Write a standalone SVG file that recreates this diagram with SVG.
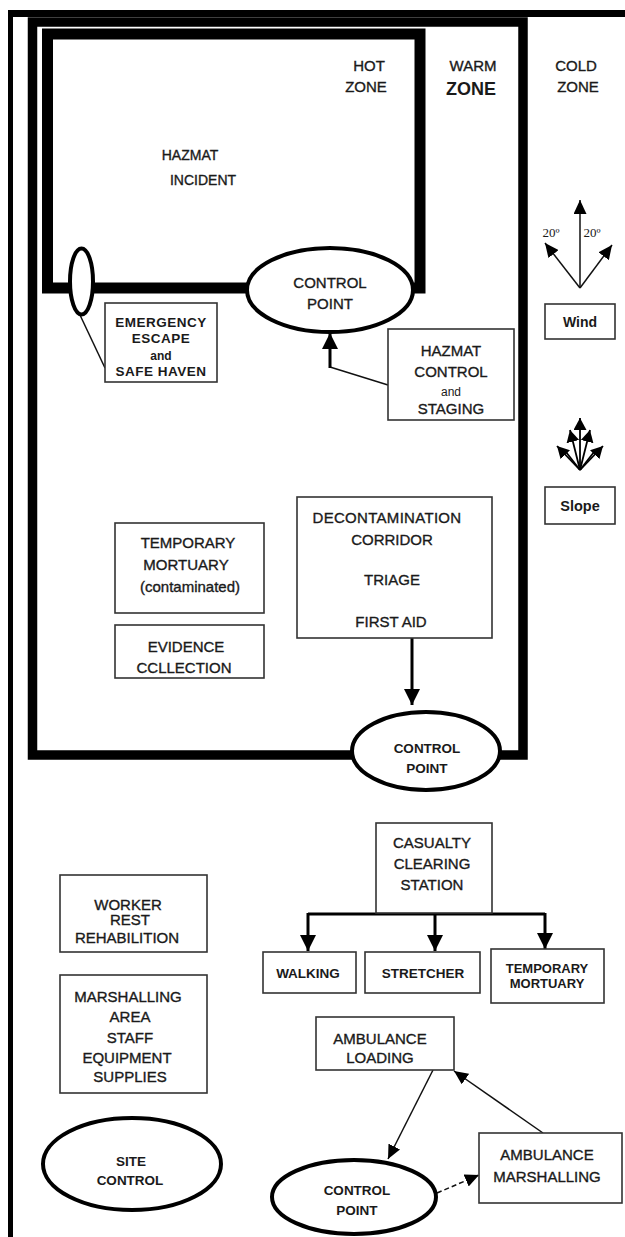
<svg xmlns="http://www.w3.org/2000/svg" width="625" height="1237" viewBox="0 0 625 1237">
<defs>
<style>
text{font-family:"Liberation Sans",Arial,sans-serif;fill:#1a1a1a;text-anchor:middle}
.t{font-size:15px;stroke:#1a1a1a;stroke-width:0.35px}
.b{font-size:13.5px;font-weight:bold}
.box{fill:#fff;stroke:#333;stroke-width:1.6}
.ell{fill:#fff;stroke:#000;stroke-width:4}
.ln{fill:none;stroke:#111;stroke-width:1.5}
.thick{fill:none;stroke:#000;stroke-width:3}
.serif{font-family:"Liberation Serif","Times New Roman",serif;font-size:13px}
</style>
<marker id="big" markerUnits="userSpaceOnUse" markerWidth="16" markerHeight="16" refX="16" refY="8" orient="auto"><path d="M0,0 L16,8 L0,16 z" fill="#000"/></marker>
<marker id="sm" markerUnits="userSpaceOnUse" markerWidth="14" markerHeight="13" refX="14" refY="6.5" orient="auto"><path d="M0,0 L14,6.5 L0,13 z" fill="#000"/></marker>
<marker id="tiny" markerUnits="userSpaceOnUse" markerWidth="13" markerHeight="13" refX="12" refY="6.5" orient="auto"><path d="M0,0 L12,6.5 L0,13 z" fill="#000"/></marker>
</defs>
<rect width="625" height="1237" fill="#fff"/>

<g id="frames">
<rect x="8" y="10" width="617" height="7" fill="#000"/>
<rect x="8" y="10" width="5" height="1227" fill="#000"/>
<rect x="32.5" y="22" width="490.5" height="733" fill="none" stroke="#000" stroke-width="9.5"/>
<rect x="47.5" y="34" width="372.5" height="254" fill="none" stroke="#000" stroke-width="11"/>
</g>

<g id="zone-labels">
<text class="t" x="369" y="71">HOT</text>
<text class="t" x="366" y="92">ZONE</text>
<text class="t" x="473" y="71">WARM</text>
<text x="471" y="95" style="font-size:18px;font-weight:bold">ZONE</text>
<text class="t" x="576" y="71">COLD</text>
<text class="t" x="578" y="92">ZONE</text>
</g>

<g id="hazmat-incident">
<text class="t" x="190" y="160" style="font-size:14px">HAZMAT</text>
<text class="t" x="203" y="185" style="font-size:14px">INCIDENT</text>
</g>

<g id="connectors">
<line class="ln" x1="80" y1="315" x2="105" y2="368" stroke-width="1.2"/>
<polyline class="ln" points="388,385 330,367" stroke-width="2"/>
<line class="thick" x1="330" y1="368" x2="330" y2="333" marker-end="url(#big)"/>
<line class="thick" x1="412" y1="638" x2="412" y2="705" marker-end="url(#big)"/>
<path class="thick" d="M308,914 H545"/>
<line class="thick" x1="308" y1="913" x2="308" y2="951" marker-end="url(#big)"/>
<line class="thick" x1="435" y1="913" x2="435" y2="951" marker-end="url(#big)"/>
<line class="thick" x1="545" y1="913" x2="545" y2="949" marker-end="url(#big)"/>
<line class="ln" x1="433" y1="1070" x2="388" y2="1159" marker-end="url(#sm)"/>
<line class="ln" x1="543" y1="1133" x2="454" y2="1071" marker-end="url(#sm)"/>
<line class="ln" x1="437" y1="1193" x2="479" y2="1175" stroke-dasharray="5,3" marker-end="url(#sm)"/>
</g>

<g id="emergency-escape-ellipse">
<ellipse cx="81.5" cy="281.5" rx="11.5" ry="33" fill="#fff" stroke="#000" stroke-width="4"/>
</g>

<g id="control-point-1">
<ellipse class="ell" cx="330" cy="290" rx="83" ry="42"/>
<text class="t" x="330" y="288">CONTROL</text>
<text class="t" x="330" y="309">POINT</text>
</g>

<g id="emergency-escape">
<rect class="box" x="105" y="303" width="112" height="79"/>
<text class="b" x="161" y="327" style="letter-spacing:0.5px">EMERGENCY</text>
<text class="b" x="161" y="343" style="letter-spacing:0.5px">ESCAPE</text>
<text x="161" y="360" style="font-size:12px;font-weight:bold">and</text>
<text class="b" x="161" y="376" style="letter-spacing:0.5px">SAFE HAVEN</text>
</g>

<g id="hazmat-control">
<rect class="box" x="388" y="329" width="126" height="91"/>
<text class="t" x="451" y="356">HAZMAT</text>
<text class="t" x="451" y="377">CONTROL</text>
<text x="451" y="396" style="font-size:12px">and</text>
<text class="t" x="451" y="414">STAGING</text>
</g>

<g id="wind">
<line class="ln" x1="580" y1="288" x2="580" y2="200" marker-end="url(#sm)"/>
<line class="ln" x1="580" y1="288" x2="545" y2="243" marker-end="url(#sm)"/>
<line class="ln" x1="580" y1="288" x2="612" y2="245" marker-end="url(#sm)"/>
<text class="serif" x="551" y="237">20º</text>
<text class="serif" x="592" y="237">20º</text>
<rect class="box" x="545" y="304" width="70" height="35"/>
<text x="580" y="327" style="font-size:14px;font-weight:bold">Wind</text>
</g>

<g id="slope">
<g fill="none" stroke="#000" stroke-width="1.8">
<line x1="580" y1="470" x2="580" y2="418" marker-end="url(#tiny)"/>
<line x1="580" y1="470" x2="570" y2="430" marker-end="url(#tiny)"/>
<line x1="580" y1="470" x2="590" y2="430" marker-end="url(#tiny)"/>
<line x1="580" y1="470" x2="557" y2="446" marker-end="url(#tiny)"/>
<line x1="580" y1="470" x2="603" y2="446" marker-end="url(#tiny)"/>
<line x1="580" y1="470" x2="566" y2="452"/>
<line x1="580" y1="470" x2="594" y2="452"/>
</g>
<rect class="box" x="545" y="487" width="70" height="37"/>
<text x="580" y="511" style="font-size:14.5px;font-weight:bold">Slope</text>
</g>

<g id="temp-mortuary-contaminated">
<rect class="box" x="115" y="523" width="149" height="90"/>
<text class="t" x="188" y="548">TEMPORARY</text>
<text class="t" x="186" y="570">MORTUARY</text>
<text class="t" x="190" y="592">(contaminated)</text>
</g>

<g id="evidence">
<rect class="box" x="115" y="625" width="149" height="53"/>
<text class="t" x="186" y="652">EVIDENCE</text>
<text class="t" x="184" y="673">CCLLECTION</text>
</g>

<g id="decon">
<rect class="box" x="297" y="497" width="195" height="141"/>
<text class="t" x="387" y="523" style="letter-spacing:0.3px">DECONTAMINATION</text>
<text class="t" x="392" y="545">CORRIDOR</text>
<text class="t" x="392" y="585">TRIAGE</text>
<text class="t" x="391" y="627">FIRST AID</text>
</g>

<g id="control-point-2">
<ellipse class="ell" cx="426" cy="751" rx="74" ry="39"/>
<text class="b" x="427" y="753">CONTROL</text>
<text class="b" x="427" y="773">POINT</text>
</g>

<g id="casualty">
<rect class="box" x="376" y="823" width="116" height="90"/>
<text class="t" x="432" y="848">CASUALTY</text>
<text class="t" x="432" y="869">CLEARING</text>
<text class="t" x="432" y="890">STATION</text>
</g>

<g id="walking">
<rect class="box" x="263" y="952" width="93" height="41"/>
<text class="b" x="308" y="978">WALKING</text>
</g>

<g id="stretcher">
<rect class="box" x="365" y="952" width="115" height="41"/>
<text class="b" x="423" y="978">STRETCHER</text>
</g>

<g id="temp-mortuary">
<rect class="box" x="491" y="949" width="113" height="54"/>
<text x="547" y="973" style="font-size:13px;font-weight:bold">TEMPORARY</text>
<text x="547" y="988" style="font-size:13px;font-weight:bold">MORTUARY</text>
</g>

<g id="worker-rest">
<rect class="box" x="60" y="875" width="147" height="77"/>
<text class="t" x="128" y="910">WORKER</text>
<text class="t" x="130" y="925">REST</text>
<text class="t" x="127" y="943">REHABILITION</text>
</g>

<g id="marshalling-area">
<rect class="box" x="60" y="975" width="147" height="118"/>
<text class="t" x="128" y="1002">MARSHALLING</text>
<text class="t" x="130" y="1022">AREA</text>
<text class="t" x="130" y="1043">STAFF</text>
<text class="t" x="127" y="1063">EQUIPMENT</text>
<text class="t" x="130" y="1082">SUPPLIES</text>
</g>

<g id="site-control">
<ellipse class="ell" cx="132" cy="1164" rx="89" ry="46"/>
<text class="b" x="131" y="1166">SITE</text>
<text class="b" x="130" y="1185">CONTROL</text>
</g>

<g id="ambulance-loading">
<rect class="box" x="316" y="1017" width="138" height="53"/>
<text class="t" x="380" y="1044">AMBULANCE</text>
<text class="t" x="380" y="1063">LOADING</text>
</g>

<g id="control-point-3">
<ellipse class="ell" cx="354" cy="1197" rx="82" ry="37"/>
<text class="b" x="357" y="1195">CONTROL</text>
<text class="b" x="357" y="1215">POINT</text>
</g>

<g id="ambulance-marshalling">
<rect class="box" x="479" y="1133" width="143" height="70"/>
<text class="t" x="547" y="1160">AMBULANCE</text>
<text class="t" x="547" y="1182">MARSHALLING</text>
</g>
</svg>
